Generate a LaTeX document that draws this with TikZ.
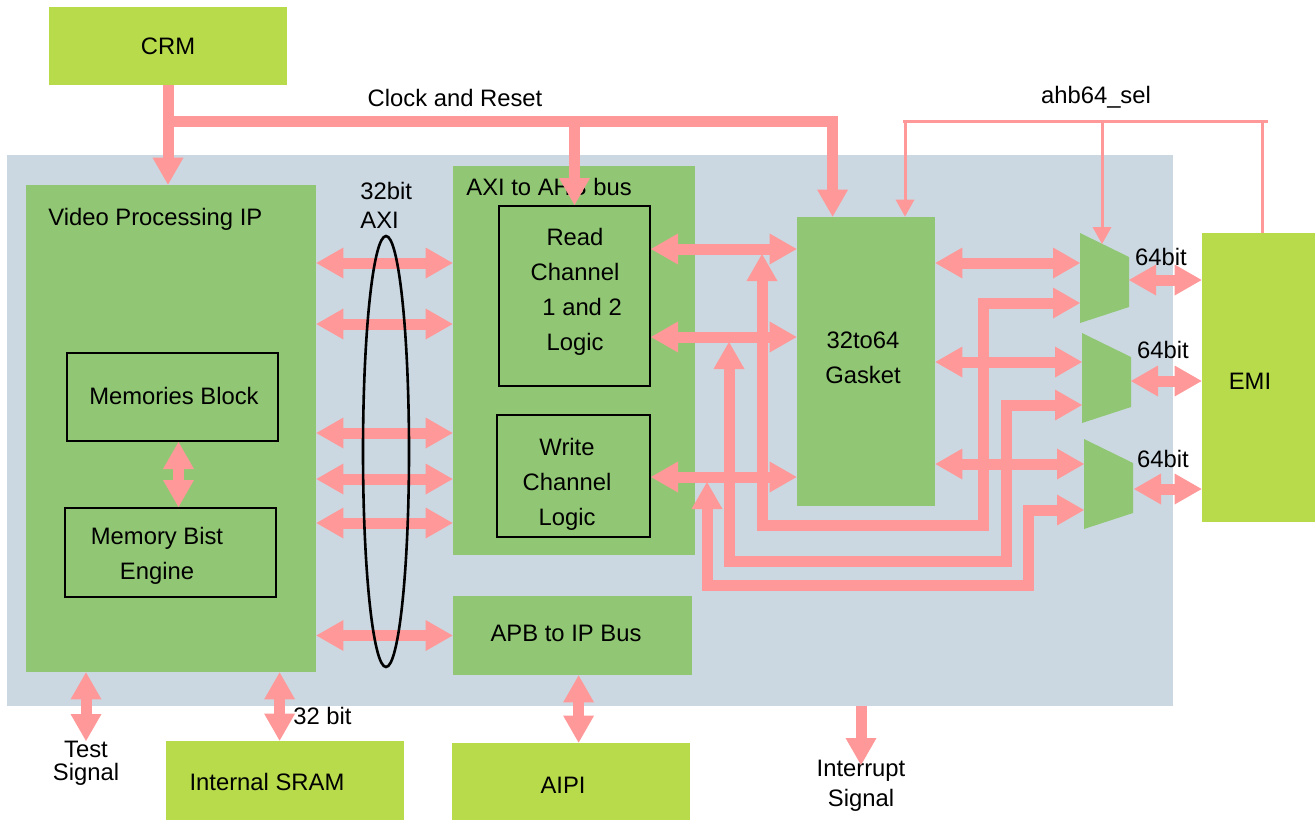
\documentclass[tikz,border=0pt]{standalone}
\usepackage{fontspec}
\setmainfont{Liberation Sans}
\usetikzlibrary{arrows.meta,fit}

\definecolor{panelbg}{HTML}{CBD8E1}
\definecolor{ipgreen}{HTML}{91C774}
\definecolor{extlime}{HTML}{B8DB4C}
\definecolor{buspink}{HTML}{FF9999}

\tikzset{
  blk/.style={fill=ipgreen, inner sep=0pt},
  ext/.style={fill=extlime, inner sep=0pt},
  sub/.style={draw=black, line width=1pt, inner sep=0pt},
  lbl/.style={inner sep=0pt, align=center},
  bus/.style={draw=buspink, line width=5.5pt},
  biarrow/.style={bus, {Triangle[width=15.5pt,length=13.5pt,line width=0pt]}-{Triangle[width=15.5pt,length=13.5pt,line width=0pt]}},
  uniarrow/.style={bus, -{Triangle[width=15.5pt,length=13.5pt,line width=0pt]}},
  selline/.style={draw=buspink, line width=1.5pt},
  selarrow/.style={selline, -{Triangle[width=9.5pt,length=8.5pt,line width=0pt]}},
}

% one multiplexer: top left corner at (#1,#2)
\newcommand{\muxshape}[2]{
    \fill[ipgreen] (#1,#2) -- ++(49,24) -- ++(0,50) -- ++(-49,16) -- cycle;
}

\begin{document}
\begin{tikzpicture}[x=0.5pt,y=-0.5pt,font=\fontsize{11.9}{17.6}\selectfont]
\useasboundingbox (0,0) rectangle (1315,820);

% grey panel
\node[fill=panelbg, inner sep=0pt, fit={(7,155) (1173,706)}] (panel) {};

% blocks outside the panel
\node[ext, fit={(49,7) (287,85)}] (crm) {};
\node[lbl] (crmtxt) at (168,46) {CRM};
\node[ext, fit={(1202,233) (1315,522)}] (emi) {};
\node[lbl] (emitxt) at (1250,381) {EMI};
\node[ext, fit={(166,741) (404,820)}] (sram) {};
\node[lbl] (sramtxt) at (267,782) {Internal SRAM};
\node[ext, fit={(452,743) (690,820)}] (aipi) {};
\node[lbl] (aipitxt) at (563,785) {AIPI};

% video IP
\node[blk, fit={(26,185) (316,672)}] (vpip) {};
\node[lbl, anchor=west] (vpiptxt) at (48,219) {Video Processing IP};
\node[sub, fit={(67,353) (278,441)}] (mem) {};
\node[lbl] (memtxt) at (174,396) {Memories Block};
\node[sub, fit={(65,508) (276,597)}] (bist) {};
\node[lbl] (bisttxt) at (157,555.5) {Memory Bist\\Engine};

% bus bridges
\node[blk, fit={(453,166) (695,555)}] (axi) {};
\node[lbl, anchor=west] (axitxt) at (466,187) {AXI to AHB bus};
\node[sub, fit={(499,206) (650,386)}] (rd) {};
\node[lbl] (rdtxt) at (575,292) {Read\\Channel\\\hspace*{0.6em}1 and 2\\Logic};
\node[sub, fit={(497,415) (650,537)}] (wr) {};
\node[lbl] (wrtxt) at (567,484.5) {Write\\Channel\\Logic};
\node[blk, fit={(453,596) (692,675)}] (apb) {};
\node[lbl] (apbtxt) at (566,633) {APB to IP Bus};
\node[blk, fit={(797,217) (935,506)}] (gasket) {};
\node[lbl] (gaskettxt) at (863,357.5) {32to64\\Gasket};

% muxes
\muxshape{1080}{233}
\muxshape{1082}{333}
\muxshape{1084}{439}
\coordinate (m1a) at (1080,263); \coordinate (m1b) at (1080,303);
\coordinate (m1o) at (1129,280); \coordinate (m1s) at (1102,244);
\coordinate (m2a) at (1082,362); \coordinate (m2b) at (1082,405);
\coordinate (m2o) at (1131,381);
\coordinate (m3a) at (1084,464); \coordinate (m3b) at (1084,510);
\coordinate (m3o) at (1134,489);

% labels
\node[lbl] (clktxt) at (455,98) {Clock and Reset};
\node[lbl] (seltxt) at (1096,97) {ahb64\_sel};
\node[lbl, anchor=west, align=left] (axiwidth) at (360,205.5) {32bit\\[-3.1pt]AXI};
\node[lbl] (w64a) at (1161,257) {64bit};
\node[lbl] (w64b) at (1163,350) {64bit};
\node[lbl] (w64c) at (1163,459) {64bit};
\node[lbl, anchor=west] (w32) at (293,716) {32 bit};
\node[lbl, anchor=north] (test) at (86,741) {Test\\[-6.3pt]Signal};
\node[lbl, anchor=north] (intr) at (861,760) {Interrupt\\[-2.6pt]Signal};

% clock and reset
\coordinate (clk) at (168,121);
\draw[uniarrow] (crm.south) -- (crm.south |- vpip.north);
\draw[uniarrow] (clk) -| (rd.north);
\draw[uniarrow] (clk) -| ([xshift=18pt]gasket.north west);

% ahb64_sel
\coordinate (selW) at (903,121);
\coordinate (selE) at (1268,121);
\coordinate (selG) at (905,121);
\coordinate (selM) at (1102,121);
\coordinate (selX) at (1262,121);
\draw[selline] (selW) -- (selE);
\draw[selarrow] (selG) -- (selG |- gasket.north);
\draw[selarrow] (selM) -- (m1s);
\draw[selline] (selX) -- (selX |- emi.north);

% AXI / APB links
\foreach \y in {263,324,433,479,523}
    \draw[biarrow] (vpip.east |- 0,\y) -- (axi.west |- 0,\y);
\draw[biarrow] (vpip.east |- apb.west) -- (apb.west);
\coordinate (membist) at ([xshift=3pt]mem.south);
\draw[biarrow] (membist) -- (membist |- bist.north);

% channels to gasket
\draw[biarrow] (rd.east |- 0,249) -- (gasket.west |- 0,249);
\draw[biarrow] (rd.east |- 0,337) -- (gasket.west |- 0,337);
\draw[biarrow] (wr.east |- 0,477) -- (gasket.west |- 0,477);

% gasket to muxes to EMI
\draw[biarrow] (gasket.east |- m1a) -- (m1a);
\draw[biarrow] (gasket.east |- m2a) -- (m2a);
\draw[biarrow] (gasket.east |- m3a) -- (m3a);
\draw[biarrow] (m1o) -- (emi.west |- m1o);
\draw[biarrow] (m2o) -- (emi.west |- m2o);
\draw[biarrow] (m3o) -- (emi.west |- m3o);

% bypass paths
\coordinate (fbA) at (762,254);
\coordinate (fbB) at (729,342);
\coordinate (fbC) at (707,482);
\draw[biarrow] (fbA) |- (983,525) |- (m1b);
\draw[biarrow] (fbB) |- (1006,561) |- (m2b);
\draw[biarrow] (fbC) |- (1028,585) |- (m3b);

% pins at the bottom
\coordinate (sramport) at ([xshift=57pt]sram.north west);
\coordinate (aipiport) at ([xshift=63.5pt]aipi.north west);
\draw[biarrow] (vpip.south -| test.north) -- (test.north);
\draw[biarrow] (sramport |- vpip.south) -- (sramport);
\draw[biarrow] (aipiport |- apb.south) -- (aipiport);
\draw[uniarrow] (intr.north |- panel.south) -- ([yshift=-2.5pt]intr.north);

% AXI bundle
\draw[line width=1.3pt] (386,451.5) ellipse [x radius=11.5pt, y radius=107.75pt];

\end{tikzpicture}
\end{document}
